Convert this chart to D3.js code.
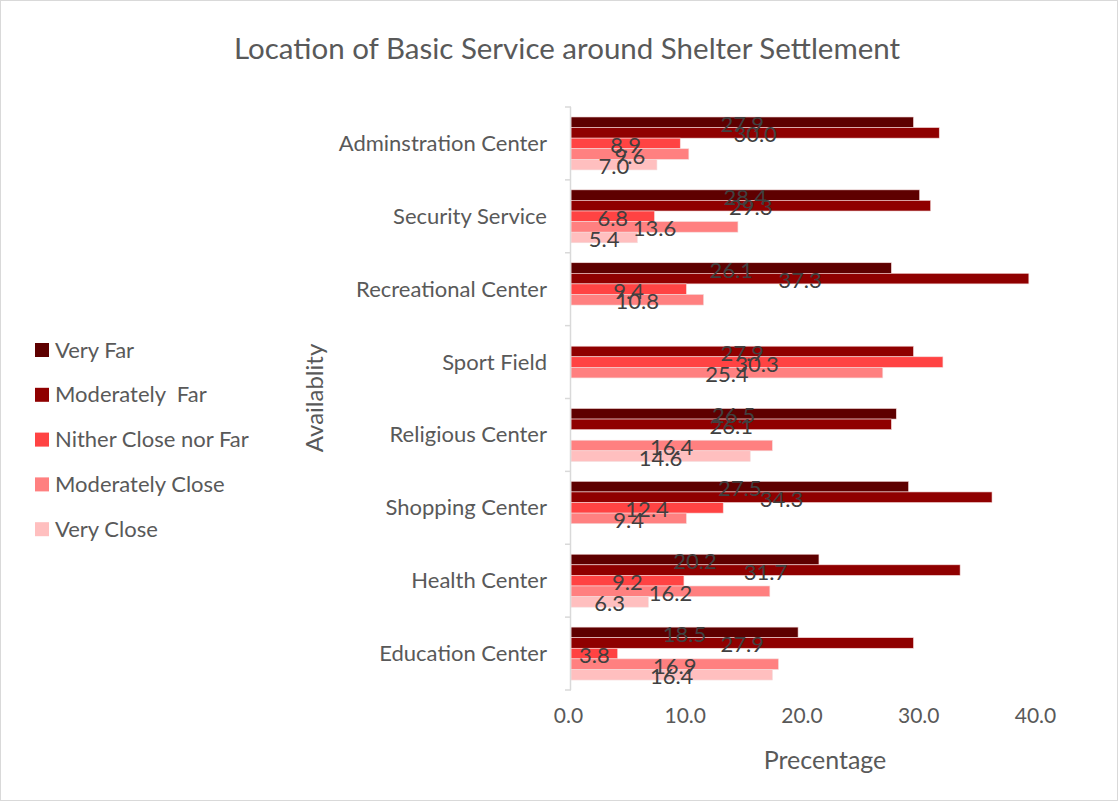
<!DOCTYPE html>
<html>
<head>
<meta charset="utf-8">
<script src="https://cdn.jsdelivr.net/npm/d3@7"></script>
<style>
  body { margin: 0; background: #fff; }
  svg { display: block; font-family: Lato, "Open Sans", sans-serif; }
</style>
</head>
<body>
<div id="chart"></div>
<script>
// Chart values
const categories = ["Adminstration Center", "Security Service", "Recreational Center", "Sport Field",
    "Religious Center", "Shopping Center", "Health Center", "Education Center"];
const seriesNames = ["Very Far", "Moderately  Far", "Nither Close nor Far", "Moderately Close", "Very Close"];
const veryFar = [27.9, 28.4, 26.1, null, 26.5, 27.5, 20.2, 18.5];
const moderatelyFar = [30.0, 29.3, 37.3, 27.9, 26.1, 34.3, 31.7, 27.9];
const nitherCloseNorFar = [8.9, 6.8, 9.4, 30.3, null, 12.4, 9.2, 3.8];
const moderatelyClose = [9.6, 13.6, 10.8, 25.4, 16.4, 9.4, 16.2, 16.9];
const veryClose = [7.0, 5.4, null, null, 14.6, null, 6.3, 16.4];
const xTicks = [0, 10, 20, 30, 40];

const seriesValues = [veryFar, moderatelyFar, nitherCloseNorFar, moderatelyClose, veryClose];
const colors = ["#5e0000", "#8f0000", "#ff4343", "#ff8080", "#ffbfbf"];

function drawChart() {
    const W = 1119, H = 802;
    const svg = d3.select("#chart").append("svg")
        .attr("width", W)
        .attr("height", H);

    // outer border
    svg.append("rect")
        .attr("x", 0.5).attr("y", 0.5)
        .attr("width", W - 2).attr("height", H - 2)
        .attr("fill", "#fff")
        .attr("stroke", "#d9d9d9");

    // scales
    const x = d3.scaleLinear().domain([0, 40]).range([571, 1062]);
    const xLabels = d3.scaleLinear().domain([0, 40]).range([568, 1035]);
    const y = d3.scaleBand().domain(categories).range([107, 690])
        .paddingInner(0.274).paddingOuter(0.137);
    const y1 = d3.scaleBand().domain(seriesNames).range([0, y.bandwidth()]);

    // title
    svg.append("text")
        .attr("x", 567).attr("y", 59)
        .attr("text-anchor", "middle")
        .attr("fill", "#595959")
        .style("font-size", "29.5px")
        .text("Location of Basic Service around Shelter Settlement");

    // bars
    const rows = categories.map((c, i) => ({
        category: c,
        values: seriesNames.map((s, j) => ({ series: s, idx: j, value: seriesValues[j][i] }))
    }));

    const groups = svg.selectAll(".group")
        .data(rows)
        .enter()
        .append("g")
        .attr("class", "group")
        .attr("transform", d => `translate(0,${y(d.category)})`);

    groups.selectAll("rect")
        .data(d => d.values.filter(v => v.value != null))
        .enter()
        .append("rect")
        .attr("x", x(0))
        .attr("y", d => y1(d.series))
        .attr("width", d => x(d.value) - x(0))
        .attr("height", y1.bandwidth())
        .attr("fill", d => colors[d.idx])
        .attr("stroke", "#f4dada")
        .attr("stroke-width", 0.6);

    // data labels, centred in each bar
    groups.selectAll("text")
        .data(d => d.values.filter(v => v.value != null))
        .enter()
        .append("text")
        .attr("x", d => (x(d.value) + x(0)) / 2)
        .attr("y", d => y1(d.series) + y1.bandwidth() / 2 + 9.5)
        .attr("text-anchor", "middle")
        .attr("fill", "#404040")
        .style("font-size", "22px")
        .text(d => d.value.toFixed(1));

    // y axis line with ticks at group boundaries
    const step = y.step();
    const yStart = y(categories[0]) - y.paddingOuter() * step;
    svg.append("line")
        .attr("x1", x(0) - 0.5).attr("x2", x(0) - 0.5)
        .attr("y1", yStart).attr("y2", yStart + step * categories.length)
        .attr("stroke", "#d9d9d9").attr("stroke-width", 1.5);
    svg.selectAll(".ytick")
        .data(d3.range(categories.length + 1))
        .enter()
        .append("line")
        .attr("x1", x(0) - 6).attr("x2", x(0))
        .attr("y1", i => yStart + i * step).attr("y2", i => yStart + i * step)
        .attr("stroke", "#d9d9d9").attr("stroke-width", 1.5);

    // category labels
    svg.selectAll(".cat")
        .data(categories)
        .enter()
        .append("text")
        .attr("x", 547)
        .attr("y", d => y(d) + y.bandwidth() / 2 + 7.5)
        .attr("text-anchor", "end")
        .attr("fill", "#595959")
        .style("font-size", "22px")
        .text(d => d);

    // x axis tick labels
    const xAxis = svg.append("g")
        .attr("transform", "translate(0,705)")
        .call(d3.axisBottom(xLabels).tickValues(xTicks).tickFormat(d3.format(".1f")).tickSize(0));
    xAxis.select(".domain").remove();
    xAxis.selectAll("text")
        .attr("fill", "#595959")
        .style("font-size", "21px")
        .style("font-family", "Lato, sans-serif");

    // axis titles
    svg.append("text")
        .attr("x", 825).attr("y", 769)
        .attr("text-anchor", "middle")
        .attr("fill", "#595959")
        .style("font-size", "25px")
        .text("Precentage");

    svg.append("text")
        .attr("transform", "translate(323,398) rotate(-90)")
        .attr("text-anchor", "middle")
        .attr("fill", "#595959")
        .style("font-size", "24px")
        .text("Availablity");

    // legend
    const legend = svg.append("g")
        .attr("transform", "translate(35,350)");
    const items = legend.selectAll("g")
        .data(seriesNames)
        .enter()
        .append("g")
        .attr("transform", (d, i) => `translate(0,${i * 44.8})`);
    items.append("rect")
        .attr("x", 0).attr("y", -7)
        .attr("width", 14).attr("height", 14)
        .attr("fill", (d, i) => colors[i]);
    items.append("text")
        .attr("x", 20).attr("y", 7.5)
        .attr("fill", "#595959")
        .style("font-size", "22px")
        .style("white-space", "pre")
        .attr("xml:space", "preserve")
        .text(d => d);
}

drawChart();
</script>
</body>
</html>
